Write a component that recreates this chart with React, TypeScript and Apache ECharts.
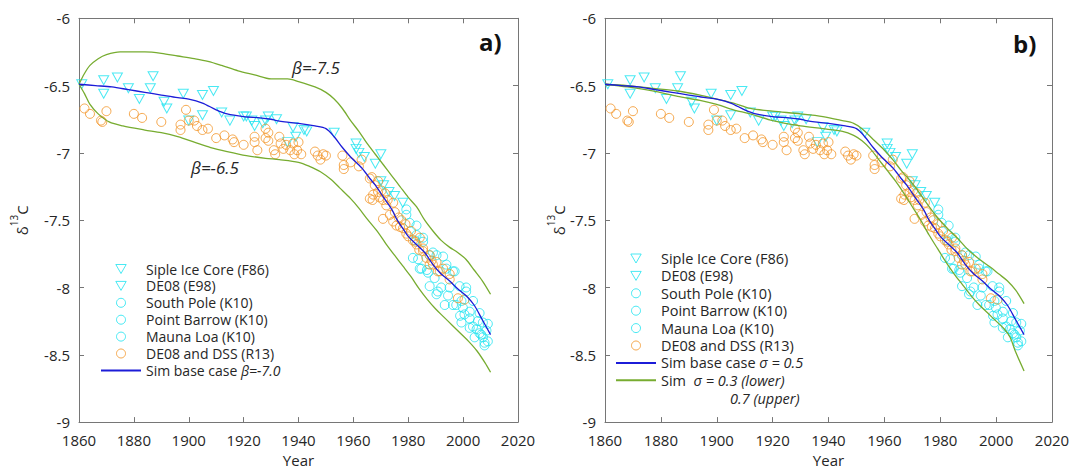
import React, { useEffect, useRef } from 'react';
import * as echarts from 'echarts';

// ---------- data ----------
const sipleF86: [number, number][] = [
  [1861, -6.49], [1869, -6.46], [1874, -6.44], [1878, -6.52], [1886, -6.52], [1887, -6.43],
  [1892, -6.67], [1898, -6.56], [1905, -6.57], [1909, -6.54], [1915, -6.76], [1921, -6.73],
  [1924, -6.8], [1928, -6.76], [1932, -6.75], [1939, -6.88], [1943, -6.84], [1953, -6.85],
];
const de08E98: [number, number][] = [
  [1869, -6.56], [1882, -6.6], [1891, -6.62], [1900, -6.76], [1905, -6.72], [1912, -6.7],
  [1920, -6.73], [1923, -6.76], [1927, -6.78], [1929, -6.73], [1936, -6.92], [1938, -6.81],
  [1942, -6.83], [1961, -6.93], [1961, -6.97], [1962, -7.0], [1964, -7.03], [1968, -7.08],
  [1970, -7.01], [1970, -7.21], [1971, -7.24], [1973, -7.29], [1975, -7.32], [1978, -7.37],
];
const southPole: [number, number][] = [
  [1979.3, -7.42], [1982.4, -7.65], [1984.2, -7.86], [1987.8, -7.99], [1992.7, -7.77], [1995.1, -8.0],
  [1997.5, -8.13], [2000.5, -8.2], [2003.6, -8.29], [2006.6, -8.35], [1989.6, -7.93], [1983, -7.54],
  [1990.3, -7.76], [1996.3, -7.88], [2002.4, -8.3], [2007.8, -8.43], [1999.4, -8.1], [2008.5, -8.32],
];
const pointBarrow: [number, number][] = [
  [1980.5, -7.52], [1985.4, -7.66], [1986.8, -7.87], [1990.3, -8.05], [1993.9, -7.86], [1998.7, -7.99],
  [1999.9, -8.15], [2004.9, -8.31], [2007.8, -8.41], [1981.7, -7.78], [1984.8, -7.86], [1993.9, -7.83],
  [1990.8, -8.03], [2001.1, -8.03], [2005.4, -8.25], [2004.2, -8.37], [1996.3, -8.13], [2009, -8.27],
];
const maunaLoa: [number, number][] = [
  [1983, -7.61], [1983.6, -7.79], [1987.8, -7.76], [1992, -8.0], [1996.9, -7.88], [2001.1, -8.0],
  [2002.4, -8.23], [2006, -8.19], [2007.2, -8.26], [1999.4, -8.26], [2003.6, -8.1], [1979.3, -7.46],
  [1985.4, -7.63], [1987.2, -7.89], [1989, -7.74], [1994.5, -8.06], [1998.9, -8.21], [2002.4, -8.18],
  [2006, -8.34], [2007.2, -8.37], [1993.3, -8.13], [2009, -8.4],
];
const dssR13: [number, number][] = [
  [1862, -6.67], [1864, -6.71], [1868, -6.76], [1868.5, -6.77], [1870, -6.69], [1880, -6.71], [1883, -6.74],
  [1890, -6.77], [1897, -6.79], [1897, -6.83], [1899, -6.68], [1900, -6.76], [1902, -6.76], [1903, -6.8],
  [1905, -6.83], [1907, -6.82], [1910, -6.89], [1913, -6.87], [1916, -6.9], [1916.5, -6.92], [1920, -6.94],
  [1924, -6.88], [1925, -6.98], [1924, -6.92], [1928, -6.82], [1929, -6.85], [1928, -6.89], [1929, -6.91],
  [1931, -6.98], [1931.5, -7.01], [1933, -6.88], [1933.5, -6.93], [1934.5, -6.97], [1935.5, -6.94],
  [1937, -6.98], [1938, -6.93], [1938.5, -7.01], [1939.5, -6.98], [1940, -6.92], [1941, -7.01],
  [1946, -6.99], [1947, -7.02], [1948, -7.05], [1949, -7.01], [1950, -7.02], [1956, -7.02], [1956.5, -7.09],
  [1956.5, -7.12], [1959, -7.07], [1962, -7.1], [1963, -7.05], [1966, -7.19], [1966, -7.34], [1967, -7.35],
  [1969, -7.21], [1969.5, -7.33], [1971.5, -7.3], [1972.5, -7.35], [1974.5, -7.37],
  [1966.7, -7.18], [1967.8, -7.24], [1967.2, -7.31], [1969, -7.29], [1970.3, -7.28], [1970.8, -7.35],
  [1972, -7.39], [1970.8, -7.49], [1973.3, -7.46], [1975.1, -7.44], [1974.5, -7.51], [1975.7, -7.54],
  [1977.5, -7.5], [1978.1, -7.56], [1979.3, -7.6], [1981.7, -7.65], [1983, -7.68], [1984.2, -7.63],
  [1985.4, -7.71], [1986.6, -7.78], [1987.8, -7.76], [1989, -7.83], [1990.3, -7.81], [1991.5, -7.88],
  [1992.7, -7.86], [1995.1, -7.9], [1985.4, -7.73], [1987.8, -7.83], [1990.8, -7.88], [1995.1, -7.94],
  [1998.1, -8.08], [2000.5, -8.09], [1976.5, -7.48], [1977, -7.55], [1979, -7.53], [1980, -7.62],
  [1981, -7.58], [1982.5, -7.66], [1984, -7.72], [1988.5, -7.8],
];
const simBase: [number, number][] = [
  [1860, -6.49], [1866, -6.5], [1872, -6.51], [1878, -6.53], [1884, -6.55], [1890, -6.57], [1896, -6.59],
  [1900, -6.6], [1905, -6.63], [1910, -6.68], [1914, -6.71], [1920, -6.73], [1926, -6.74], [1930, -6.75],
  [1932, -6.76], [1935, -6.77], [1940, -6.78], [1946, -6.8], [1950, -6.82], [1953, -6.88], [1956, -6.96],
  [1959, -7.03], [1963, -7.11], [1966, -7.19], [1968, -7.24], [1971, -7.33], [1974, -7.42], [1976, -7.5],
  [1978, -7.56], [1980, -7.62], [1983, -7.68], [1986, -7.74], [1989, -7.83], [1992, -7.9], [1995, -7.95],
  [1998, -8.01], [2001, -8.06], [2004, -8.13], [2007, -8.24], [2010, -8.35],
];
const betaUpper: [number, number][] = [
  [1860, -6.49], [1862, -6.41], [1864, -6.35], [1867, -6.3], [1870, -6.27], [1875, -6.25], [1884, -6.25],
  [1890, -6.26], [1896, -6.28], [1902, -6.3], [1907, -6.32], [1912, -6.35], [1918, -6.39], [1924, -6.42],
  [1930, -6.45], [1936, -6.45], [1940, -6.47], [1946, -6.51], [1950, -6.55], [1953, -6.6], [1956, -6.67],
  [1959, -6.76], [1962, -6.84], [1965, -6.93], [1968, -7.01], [1971, -7.09], [1974, -7.17], [1977, -7.25],
  [1980, -7.33], [1983, -7.4], [1986, -7.5], [1989, -7.58], [1992, -7.65], [1995, -7.7], [1998, -7.74],
  [2001, -7.79], [2004, -7.87], [2007, -7.95], [2010, -8.05],
];
const betaLower: [number, number][] = [
  [1860, -6.49], [1862, -6.56], [1864, -6.64], [1867, -6.71], [1871, -6.77], [1876, -6.8], [1884, -6.83],
  [1890, -6.85], [1896, -6.88], [1902, -6.92], [1908, -6.96], [1914, -6.99], [1921, -7.02], [1928, -7.04],
  [1933, -7.05], [1940, -7.07], [1944, -7.1], [1948, -7.14], [1952, -7.2], [1955, -7.26], [1959, -7.34],
  [1962, -7.41], [1965, -7.49], [1969, -7.59], [1972, -7.68], [1975, -7.76], [1978, -7.84], [1981, -7.92],
  [1984, -8.01], [1987, -8.09], [1990, -8.16], [1993, -8.22], [1996, -8.28], [1999, -8.34], [2002, -8.4],
  [2005, -8.47], [2008, -8.56], [2010, -8.63],
];
const sigmaUpper: [number, number][] = [
  [1860, -6.49], [1868, -6.5], [1877, -6.52], [1886, -6.54], [1894, -6.57], [1900, -6.6], [1906, -6.63],
  [1912, -6.67], [1920, -6.69], [1930, -6.71], [1938, -6.73], [1945, -6.76], [1949, -6.78], [1952, -6.82],
  [1956, -6.9], [1960, -6.98], [1963, -7.05], [1966, -7.13], [1969, -7.2], [1972, -7.28], [1975, -7.37],
  [1979, -7.48], [1983, -7.57], [1986, -7.63], [1990, -7.72], [1994, -7.79], [1998, -7.85], [2001, -7.9],
  [2004, -7.95], [2007, -8.02], [2010, -8.12],
];
const sigmaLower: [number, number][] = [
  [1860, -6.49], [1868, -6.51], [1877, -6.54], [1886, -6.58], [1894, -6.61], [1900, -6.64], [1906, -6.68],
  [1912, -6.71], [1920, -6.76], [1930, -6.8], [1938, -6.82], [1945, -6.84], [1949, -6.87], [1952, -6.91],
  [1955, -6.97], [1958, -7.05], [1961, -7.13], [1964, -7.21], [1967, -7.3], [1970, -7.4], [1973, -7.5],
  [1976, -7.61], [1979, -7.71], [1982, -7.81], [1985, -7.9], [1988, -7.98], [1991, -8.06], [1994, -8.13],
  [1997, -8.19], [2000, -8.25], [2003, -8.31], [2005, -8.37], [2007, -8.48], [2010, -8.62],
];

const xRange = { min: 1860, max: 2020, interval: 20 };
const yRange = { min: -9, max: -6, interval: 0.5 };
const panelLabels = ['a)', 'b)'];
const betaLabels = ['β=-7.5', 'β=-6.5'];
const scatterNames = [
  'Siple Ice Core (F86)', 'DE08 (E98)', 'South Pole (K10)', 'Point Barrow (K10)', 'Mauna Loa (K10)', 'DE08 and DSS (R13)',
];

// ---------- styles ----------
const FONT = 'Open Sans';
const CYAN = '#1CE4F0';
const ORANGE = '#F39324';
const BLUE = '#1C1CD8';
const GREEN = '#77AC30';
const AX = '#767676';
const TXT = '#262626';
const TRI = 'path://M0,0L10,0L5,8.66Z';

const grids = [
  { left: 79, right: 1083 - 518, top: 18.3, bottom: 472 - 428.3 },
  { left: 605, right: 1083 - 1052, top: 18.3, bottom: 472 - 428.3 },
];

function scatter(name: string, data: [number, number][], sym: string, color: string, g: number) {
  return {
    type: 'scatter', name, data, xAxisIndex: g * 2, yAxisIndex: g * 2,
    symbol: sym, symbolSize: sym === TRI ? [10, 9] : 9,
    itemStyle: { color: 'rgba(0,0,0,0)', borderColor: color, borderWidth: 1 },
    silent: true, z: 2,
  };
}
function line(name: string, data: [number, number][], color: string, g: number) {
  return {
    type: 'line', name, data, xAxisIndex: g * 2, yAxisIndex: g * 2,
    symbol: 'none', showSymbol: false, smooth: 0.3,
    lineStyle: { color, width: 1.3 }, itemStyle: { color }, silent: true, z: 3,
  };
}

function buildOption() {
  const xAxis: any[] = [];
  const yAxis: any[] = [];
  grids.forEach((_, g) => {
    const tick = { show: true, inside: true, length: 5, lineStyle: { color: AX } };
    const axLine = { show: true, lineStyle: { color: AX, width: 1 } };
    xAxis.push({
      type: 'value', gridIndex: g, ...xRange, position: 'bottom', axisLine: axLine, axisTick: tick,
      splitLine: { show: false },
      axisLabel: { color: TXT, fontSize: 15, fontFamily: FONT, margin: 10, formatter: (v: number) => String(v) },
      name: 'Year', nameLocation: 'middle', nameGap: 28,
      nameTextStyle: { color: TXT, fontSize: 15, fontFamily: FONT },
    });
    xAxis.push({
      type: 'value', gridIndex: g, ...xRange, position: 'top', axisLine: axLine, axisTick: tick,
      splitLine: { show: false }, axisLabel: { show: false },
    });
    yAxis.push({
      type: 'value', gridIndex: g, ...yRange, position: 'left', axisLine: axLine, axisTick: tick,
      splitLine: { show: false },
      axisLabel: { color: TXT, fontSize: 15, fontFamily: FONT, margin: 9, formatter: (v: number) => String(v) },
      name: '{d|δ}{s|13}{d|C}', nameLocation: 'middle', nameGap: g === 0 ? 50 : 32,
      nameTextStyle: {
        color: TXT, fontFamily: FONT,
        rich: {
          d: { fontSize: 15, fontFamily: FONT, color: TXT, lineHeight: 20, verticalAlign: 'bottom' },
          s: { fontSize: 10, fontFamily: FONT, color: TXT, lineHeight: 20, verticalAlign: 'top', padding: [0, 0, 6, 0] },
        },
      },
    });
    yAxis.push({
      type: 'value', gridIndex: g, ...yRange, position: 'right', axisLine: axLine, axisTick: tick,
      splitLine: { show: false }, axisLabel: { show: false },
    });
  });

  const series: any[] = [];
  [0, 1].forEach((g) => {
    series.push(scatter(scatterNames[0], sipleF86, TRI, CYAN, g));
    series.push(scatter(scatterNames[1], de08E98, TRI, CYAN, g));
    series.push(scatter(scatterNames[2], southPole, 'circle', CYAN, g));
    series.push(scatter(scatterNames[3], pointBarrow, 'circle', CYAN, g));
    series.push(scatter(scatterNames[4], maunaLoa, 'circle', CYAN, g));
    series.push(scatter(scatterNames[5], dssR13, 'circle', ORANGE, g));
  });
  series.push(line('upperA', betaUpper, GREEN, 0));
  series.push(line('lowerA', betaLower, GREEN, 0));
  series.push(line('simA', simBase, BLUE, 0));
  series.push(line('upperB', sigmaUpper, GREEN, 1));
  series.push(line('lowerB', sigmaLower, GREEN, 1));
  series.push(line('simB', simBase, BLUE, 1));

  const rich = (fs: number) => ({
    t: { fontSize: fs, fontFamily: FONT, color: TXT },
    i: { fontSize: fs, fontFamily: FONT, color: TXT, fontStyle: 'italic' },
  });
  const legendFormatter = (name: string) => {
    if (name === 'simA') return '{t|Sim base case }{i|β=-7.0}';
    if (name === 'simB') return '{t|Sim base case }{i|σ = 0.5}';
    if (name === 'lowerB') return '{t|Sim  }{i|σ = 0.3 (lower)}';
    return '{t|' + name + '}';
  };
  const legendData = (extra: string[]) => [
    ...scatterNames.map((n, k) => ({
      name: n,
      icon: k < 2 ? TRI : 'circle',
      itemStyle: { color: 'rgba(0,0,0,0)', borderColor: k === 5 ? ORANGE : CYAN, borderWidth: 1 },
    })),
    ...extra.map((n) => ({ name: n, itemStyle: { opacity: 0 } })),
  ];
  const legendCommon = (fs: number) => ({
    orient: 'vertical', itemWidth: 40, itemHeight: 9, selectedMode: false,
    textStyle: { fontSize: fs, fontFamily: FONT, color: TXT, lineHeight: 16, rich: rich(fs) },
    formatter: legendFormatter, padding: 0, itemStyle: { borderWidth: 1 },
  });
  const legend = [
    { ...legendCommon(14), left: 100, top: 261, itemGap: 0.9, data: legendData(['simA']) },
    { ...legendCommon(14.5), left: 615, top: 250.5, itemGap: 1.4, data: legendData(['simB', 'lowerB']) },
  ];

  const graphic = [
    { type: 'text', left: 479, top: 29, style: { text: panelLabels[0], font: 'bold 24px "Open Sans"', fill: '#111' } },
    { type: 'text', left: 1013, top: 31, style: { text: panelLabels[1], font: 'bold 24px "Open Sans"', fill: '#111' } },
    { type: 'text', left: 292, top: 59, style: { text: betaLabels[0], font: 'italic 17px "Open Sans"', fill: TXT } },
    { type: 'text', left: 191, top: 159, style: { text: betaLabels[1], font: 'italic 17px "Open Sans"', fill: TXT } },
    { type: 'text', left: 730, top: 391, style: { text: '0.7 (upper)', font: 'italic 14.5px "Open Sans"', fill: TXT } },
  ];

  return {
    animation: false,
    backgroundColor: '#fff',
    grid: grids.map((g) => ({ ...g, containLabel: false })),
    xAxis, yAxis, series, legend, graphic,
  };
}

export default function App() {
  const ref = useRef<HTMLDivElement>(null);
  useEffect(() => {
    if (!ref.current) return;
    const chart = echarts.init(ref.current, undefined, { renderer: 'svg' });
    chart.setOption(buildOption() as any);
    return () => chart.dispose();
  }, []);
  return <div ref={ref} style={{ position: 'absolute', left: 0, top: 0, width: 1083, height: 472 }} />;
}
